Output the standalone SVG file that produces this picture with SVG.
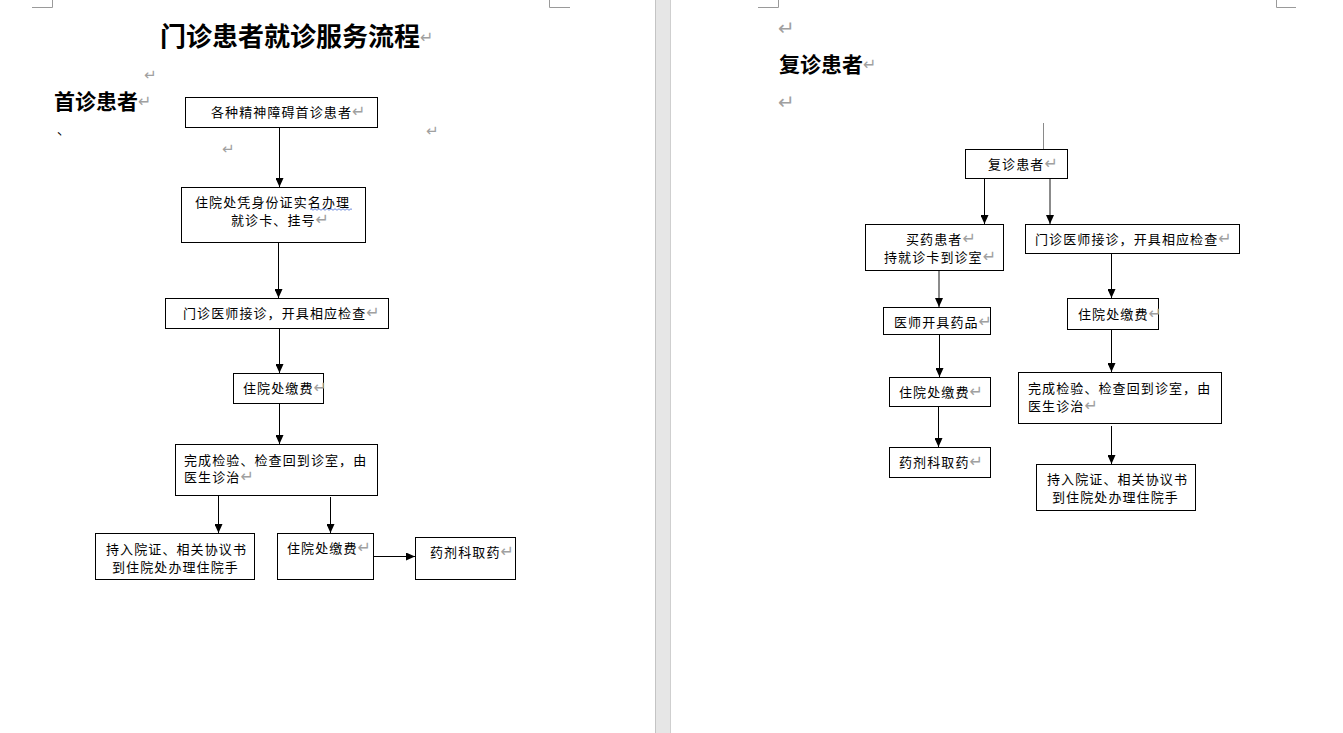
<svg xmlns="http://www.w3.org/2000/svg" width="1343" height="733" viewBox="0 0 1343 733">
<style>
.bx{fill:#fff;stroke:#000;stroke-width:1}
.t{font-family:"Noto Sans CJK SC","Noto Sans",sans-serif;font-size:13px;letter-spacing:1.1px;fill:#000}
.h{font-family:"Noto Sans CJK SC",sans-serif;font-weight:700;fill:#000}
.r{font-family:"DejaVu Sans",sans-serif;font-size:16px;letter-spacing:0;fill:#a0a0a0;font-weight:400}
.rm{font-family:"DejaVu Sans",sans-serif;fill:#a0a0a0}
.cn{stroke:#000;stroke-width:1;fill:none;marker-end:url(#ah)}
.cg{stroke:#6e6e6e;stroke-width:1.6;fill:none;marker-end:url(#ah)}
.cm{stroke:#9a9a9a;stroke-width:1;fill:none}
</style>
<defs>
<marker id="ah" markerUnits="userSpaceOnUse" markerWidth="9" markerHeight="8" refX="9" refY="4" orient="auto">
<path d="M0,0 L9,4 L0,8 z" fill="#000"/>
</marker>
</defs>
<rect x="0" y="0" width="1343" height="733" fill="#fff"/>
<g id="gutter">
<rect x="655" y="0" width="16" height="733" fill="#e6e6e6"/>
<line x1="655.5" y1="0" x2="655.5" y2="733" stroke="#c4c4c4"/>
<line x1="670.5" y1="0" x2="670.5" y2="733" stroke="#cfcfcf"/>
</g>
<g id="corner-marks">
<path class="cm" d="M32,7.5 H52.5 V0"/>
<path class="cm" d="M570,7.5 H549.5 V0"/>
<path class="cm" d="M758,7.5 H778.5 V0"/>
<path class="cm" d="M1296,7.5 H1276.5 V0"/>
</g>
<g id="page1-text">
<text class="h" x="160" y="46" font-size="26">门诊患者就诊服务流程<tspan class="r" font-size="22" dy="-3">↵</tspan></text>
<text class="h" x="54" y="109" font-size="21">首诊患者<tspan class="r" font-size="19" dy="-2">↵</tspan></text>
<text class="rm" x="144" y="80" font-size="15">↵</text>
<text class="t" x="57" y="134">、</text>
<text class="rm" x="426" y="136" font-size="15">↵</text>
<text class="rm" x="222" y="154" font-size="15">↵</text>
</g>
<g id="page2-text">
<text class="rm" x="778" y="35" font-size="20">↵</text>
<text class="h" x="779" y="72" font-size="21">复诊患者<tspan class="r" font-size="19" dy="-2">↵</tspan></text>
<text class="rm" x="778" y="109" font-size="20">↵</text>
<line x1="1043.5" y1="123" x2="1043.5" y2="164" stroke="#8a8a8a" stroke-width="1"/>
</g>
<g id="connectors">
<line class="cn" x1="279.5" y1="127" x2="279.5" y2="187"/>
<line class="cn" x1="278.5" y1="242" x2="278.5" y2="298"/>
<line class="cn" x1="279.5" y1="328" x2="279.5" y2="373"/>
<line class="cn" x1="279.5" y1="403" x2="279.5" y2="444"/>
<line class="cn" x1="218.5" y1="495" x2="218.5" y2="533"/>
<line class="cn" x1="330.5" y1="497" x2="330.5" y2="533"/>
<line class="cn" x1="373" y1="556.5" x2="415" y2="556.5"/>
<line class="cn" x1="984.5" y1="178" x2="984.5" y2="224"/>
<line class="cg" x1="1050" y1="178" x2="1050" y2="224"/>
<line class="cg" x1="939" y1="270" x2="939" y2="307"/>
<line class="cn" x1="939.5" y1="335" x2="939.5" y2="377"/>
<line class="cn" x1="938.5" y1="407" x2="938.5" y2="447"/>
<line class="cn" x1="1111.5" y1="254" x2="1111.5" y2="298"/>
<line class="cn" x1="1111.5" y1="329" x2="1111.5" y2="372"/>
<line class="cn" x1="1111.5" y1="426" x2="1111.5" y2="464"/>
</g>
<g id="n1"><rect class="bx" x="185.5" y="97.5" width="192" height="30"/>
<text class="t" x="211" y="117">各种精神障碍首诊患者<tspan class="r">↵</tspan></text></g>
<g id="n2"><rect class="bx" x="181.5" y="187.5" width="184" height="55"/>
<text class="t" x="195" y="207">住院处凭身份证实名办理</text>
<path d="M310,209.5 q1,-1.5 2,0 t2,0 t2,0 t2,0 t2,0 t2,0 t2,0 t2,0 t2,0 t2,0 t2,0 t2,0 t2,0 t2,0 t2,0 t2,0 t2,0 t2,0 t2,0 t2,0 t2,0" fill="none" stroke="#4a6fd0" stroke-width="0.8"/>
<text class="t" x="231" y="225">就诊卡、挂号<tspan class="r">↵</tspan></text></g>
<g id="n3"><rect class="bx" x="165.5" y="298.5" width="223" height="30"/>
<text class="t" x="183" y="318">门诊医师接诊，开具相应检查<tspan class="r">↵</tspan></text></g>
<g id="n4"><rect class="bx" x="233.5" y="373.5" width="90" height="30"/>
<text class="t" x="243" y="393">住院处缴费<tspan class="r">↵</tspan></text></g>
<g id="n5"><rect class="bx" x="175.5" y="444.5" width="202" height="51"/>
<text class="t" x="184" y="465">完成检验、检查回到诊室，由</text>
<text class="t" x="184" y="482">医生诊治<tspan class="r">↵</tspan></text></g>
<g id="n6"><rect class="bx" x="95.5" y="533.5" width="159" height="46"/>
<text class="t" x="106" y="554">持入院证、相关协议书</text>
<text class="t" x="112" y="572">到住院处办理住院手</text></g>
<g id="n7"><rect class="bx" x="277.5" y="533.5" width="96" height="46"/>
<text class="t" x="287" y="553">住院处缴费<tspan class="r">↵</tspan></text></g>
<g id="n8"><rect class="bx" x="415.5" y="537.5" width="100" height="42"/>
<text class="t" x="430" y="557">药剂科取药<tspan class="r">↵</tspan></text></g>
<g id="r1"><rect class="bx" x="965.5" y="149.5" width="102" height="29"/>
<text class="t" x="988" y="169">复诊患者<tspan class="r">↵</tspan></text></g>
<g id="r2"><rect class="bx" x="865.5" y="224.5" width="138" height="46"/>
<text class="t" x="906" y="244">买药患者<tspan class="r">↵</tspan></text>
<text class="t" x="884" y="262">持就诊卡到诊室<tspan class="r">↵</tspan></text></g>
<g id="r3"><rect class="bx" x="1025.5" y="224.5" width="214" height="29"/>
<text class="t" x="1035" y="244">门诊医师接诊，开具相应检查<tspan class="r">↵</tspan></text></g>
<g id="r4"><rect class="bx" x="883.5" y="307.5" width="107" height="27"/>
<text class="t" x="894" y="327">医师开具药品<tspan class="r">↵</tspan></text></g>
<g id="r5"><rect class="bx" x="889.5" y="377.5" width="101" height="29"/>
<text class="t" x="899" y="397">住院处缴费<tspan class="r">↵</tspan></text></g>
<g id="r6"><rect class="bx" x="889.5" y="447.5" width="101" height="30"/>
<text class="t" x="899" y="467">药剂科取药<tspan class="r">↵</tspan></text></g>
<g id="r7"><rect class="bx" x="1067.5" y="298.5" width="91" height="31"/>
<text class="t" x="1078" y="319">住院处缴费<tspan class="r">↵</tspan></text></g>
<g id="r8"><rect class="bx" x="1018.5" y="372.5" width="203" height="51"/>
<text class="t" x="1028" y="393">完成检验、检查回到诊室，由</text>
<text class="t" x="1028" y="411">医生诊治<tspan class="r">↵</tspan></text></g>
<g id="r9"><rect class="bx" x="1036.5" y="464.5" width="159" height="46"/>
<text class="t" x="1047" y="484">持入院证、相关协议书</text>
<text class="t" x="1052" y="502">到住院处办理住院手</text></g>
</svg>
